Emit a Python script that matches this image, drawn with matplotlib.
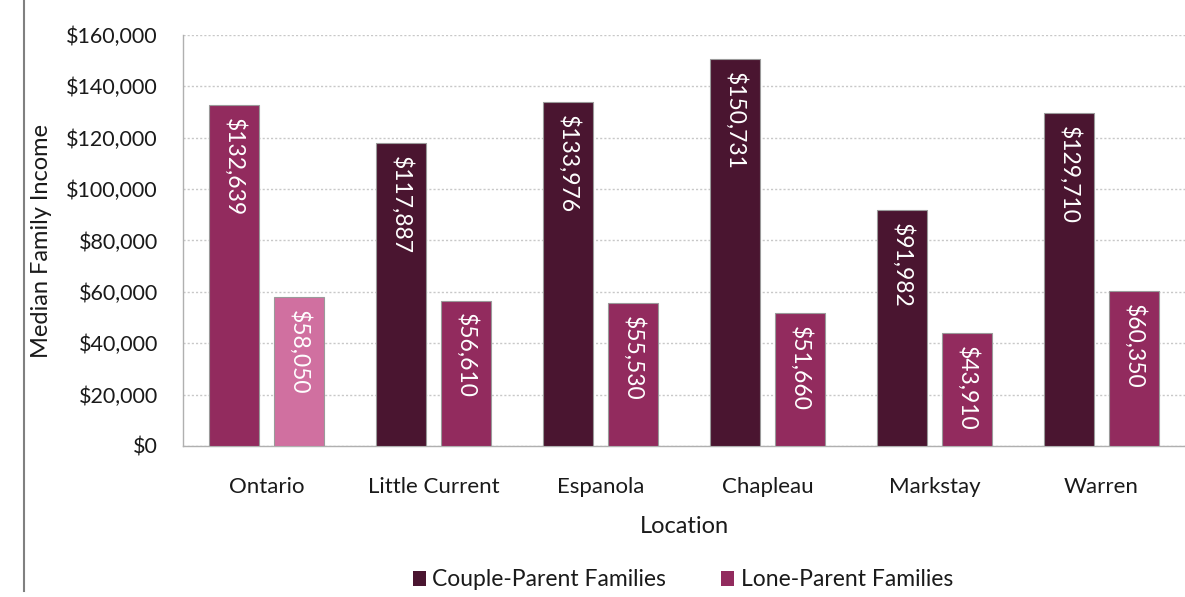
import numpy as np
import matplotlib
matplotlib.use('Agg')
import matplotlib.pyplot as plt
from matplotlib.lines import Line2D
from matplotlib.patches import Patch
from matplotlib.ticker import FuncFormatter, MultipleLocator

plt.rcParams['font.family'] = ['Lato', 'DejaVu Sans']

locations = ['Ontario', 'Little Current', 'Espanola', 'Chapleau', 'Markstay', 'Warren']
couple = [132639, 117887, 133976, 150731, 91982, 129710]
lone = [58050, 56610, 55530, 51660, 43910, 60350]

DARK = '#4a1530'
MAGENTA = '#922b5e'
PINK = '#d070a0'
TXT = '#1a1a1a'

fig = plt.figure(figsize=(11.85, 5.97), dpi=100)
ax = fig.add_axes([183 / 1185, 1 - 446 / 597, 1 - 183 / 1185, (446 - 35) / 597])

x = np.arange(len(locations))
w = 0.3
off = 0.195
# Ontario is highlighted with lighter colours
couple_cols = [MAGENTA] + [DARK] * (len(locations) - 1)
lone_cols = [PINK] + [MAGENTA] * (len(locations) - 1)

b1 = ax.bar(x - off, couple, w, color=couple_cols, edgecolor='#9a9a9a', linewidth=0.8, zorder=3)
b2 = ax.bar(x + off, lone, w, color=lone_cols, edgecolor='#9a9a9a', linewidth=0.8, zorder=3)

for bars, vals in ((b1, couple), (b2, lone)):
    for bar, v in zip(bars, vals):
        ax.text(bar.get_x() + bar.get_width() / 2, v - 5000, f'${v:,}',
                rotation=-90, ha='center', va='top', color='white', fontsize=16.5, zorder=4)

ax.set_xlim(-0.5, len(locations) - 0.5)
ax.set_ylim(0, 160000)
ax.yaxis.set_major_locator(MultipleLocator(20000))
ax.yaxis.set_major_formatter(FuncFormatter(lambda v, p: f'${v:,.0f}'))
ax.grid(axis='y', linestyle=(0, (1.5, 1.5)), color='#c8c8c8', linewidth=1, zorder=0)
ax.set_xticks(x)
ax.set_xticklabels(locations)
ax.tick_params(axis='y', length=0, labelsize=15.5, colors=TXT, pad=18)
ax.tick_params(axis='x', length=0, labelsize=16, colors=TXT, pad=22)

for s in ['top', 'right']:
    ax.spines[s].set_visible(False)
for s in ['left', 'bottom']:
    ax.spines[s].set_color('#b0b0b0')
    ax.spines[s].set_linewidth(1)

ax.set_xlabel('Location', fontsize=17, color=TXT, labelpad=14)
ax.set_ylabel('Median Family Income', fontsize=17, color=TXT, labelpad=10)

handles = [Patch(facecolor=DARK, label='Couple-Parent Families'),
           Patch(facecolor=MAGENTA, label='Lone-Parent Families')]
fig.legend(handles=handles, loc='center', bbox_to_anchor=(683 / 1185, 1 - 580 / 597), ncol=2,
           frameon=False, fontsize=16.5, handlelength=0.55, handleheight=0.6,
           handletextpad=0.3, columnspacing=2.4, labelcolor=TXT)

# thin border line at the left edge of the figure
fig.add_artist(Line2D([24 / 1185, 24 / 1185], [0.01, 1.0], color='#808080', linewidth=1.5))

fig.savefig('out.png', dpi=100)
